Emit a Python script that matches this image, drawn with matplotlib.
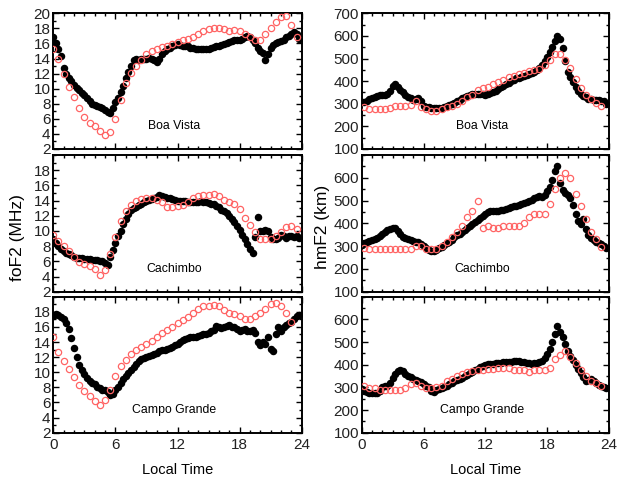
import numpy as np
import matplotlib
matplotlib.use('Agg')
import matplotlib.pyplot as plt
from matplotlib.ticker import MultipleLocator

plt.rcParams['font.family'] = ['Liberation Sans', 'DejaVu Sans']

# ─────────────────────────────────────────────────────────
# Données lues sur la figure
# obs = points noirs (pas de 15 min), mod = cercles rouges (pas de 30 min)
# ─────────────────────────────────────────────────────────
t_obs = np.arange(0, 24, 0.25)

bv_fof2_obs = [16.8, 16.0, 15.2, 14.4, 12.8, 12.0, 11.4, 11.0, 10.5, 10.1, 9.8, 9.4,
               9.1, 8.7, 8.3, 8.0, 7.8, 7.7, 7.6, 7.4, 7.2, 6.9, 6.8, 7.4,
               8.2, 8.8, 9.6, 10.4, 11.4, 12.2, 13.0, 13.8, 13.9, 13.8, 13.9, 14.0,
               14.0, 14.1, 13.9, 13.8, 13.6, 14.0, 14.6, 15.0, 15.3, 15.4, 15.6, 15.8,
               15.9, 15.8, 15.7, 15.6, 15.6, 15.4, 15.4, 15.3, 15.2, 15.2, 15.2, 15.3,
               15.3, 15.4, 15.5, 15.6, 15.7, 15.8, 15.9, 16.0, 16.2, 16.3, 16.4, 16.5,
               16.5, 16.6, 16.8, 17.0, 16.8, 16.4, 16.0, 15.4, 15.0, 14.8, 13.8, 14.6,
               15.4, 15.8, 16.0, 16.2, 16.3, 16.5, 16.8, 17.0, 17.3, 17.5, 17.2, 16.6]
bv_fof2_mod = [15.2, 13.9, 11.9, 10.2, 8.9, 7.5, 6.2, 5.4, 5.0, 4.4, 3.8, 4.2,
               6.0, 8.5, 10.8, 12.1, 13.0, 13.8, 14.6, 15.0, 15.2, 15.5, 15.7, 15.9,
               16.2, 16.4, 16.6, 16.9, 17.3, 17.7, 17.9, 18.0, 18.1, 17.9, 17.7, 17.8,
               17.6, 17.3, 16.8, 16.5, 16.5, 17.2, 18.1, 18.8, 19.5, 19.6, 18.5, 16.9]

ca_fof2_obs = [8.9, 8.4, 8.0, 7.6, 7.3, 7.1, 6.9, 6.8, 6.6, 6.5, 6.4, 6.4,
               6.3, 6.3, 6.3, 6.2, 6.2, 6.2, 6.1, 6.0, 5.8, 5.5, 6.6, 7.5,
               8.4, 9.3, 10.0, 10.9, 11.6, 12.2, 12.7, 13.0, 13.2, 13.4, 13.6, 13.8,
               13.9, 14.1, 14.2, 14.3, 14.5, 14.7, 14.6, 14.5, 14.4, 14.3, 14.2, 14.1,
               14.0, 14.0, 13.9, 13.9, 13.8, 13.8, 13.8, 13.8, 13.8, 13.9, 13.8, 13.8,
               13.7, 13.6, 13.5, 13.3, 13.1, 12.8, 12.6, 12.3, 12.0, 11.6, 11.2, 10.7,
               10.1, 9.5, 8.9, 8.3, 7.6, 7.1, 9.2, 11.8, 10.0, 10.0, 10.1, 10.0,
               9.2, 9.0, 9.0, 9.1, 9.5, 9.3, 9.1, 9.3, 9.4, 9.2, 9.3, 9.1]
ca_fof2_mod = [9.5, 8.7, 8.0, 7.4, 6.6, 5.9, 5.7, 5.4, 5.0, 4.2, 4.9, 6.9,
               9.2, 11.3, 12.6, 13.4, 13.9, 14.2, 14.3, 14.3, 14.1, 13.8, 13.2, 13.1,
               13.3, 13.4, 13.8, 14.3, 14.6, 14.7, 14.8, 14.9, 14.6, 14.1, 13.8, 13.6,
               12.9, 11.7, 10.8, 9.9, 9.0, 8.9, 9.0, 9.3, 9.9, 10.5, 10.6, 10.3]

cg_fof2_obs = [17.5, 17.7, 17.6, 17.3, 17.0, 16.5, 15.7, 14.5, 13.2, 12.0, 11.0, 10.3,
               9.8, 9.3, 8.9, 8.6, 8.4, 8.1, 7.9, 7.7, 7.6, 7.4, 7.0, 7.1,
               7.6, 8.1, 8.6, 9.1, 9.5, 9.9, 10.3, 10.7, 11.1, 11.5, 11.7, 11.9,
               12.0, 12.2, 12.3, 12.4, 12.6, 12.8, 12.9, 13.0, 13.1, 13.2, 13.4, 13.6,
               13.8, 14.0, 14.2, 14.4, 14.5, 14.6, 14.6, 14.7, 14.8, 14.9, 15.0, 15.1,
               15.2, 15.4, 15.6, 16.1, 16.0, 15.9, 16.0, 16.1, 16.2, 16.0, 16.0, 15.7,
               15.5, 15.6, 15.7, 15.5, 15.4, 15.6, 15.2, 14.0, 13.6, 14.0, 13.8, 14.6,
               13.1, 12.8, 15.0, 16.0, 15.5, 16.0, 16.3, 16.5, 16.6, 17.0, 17.4, 17.6]
cg_fof2_mod = [14.6, 12.7, 11.5, 10.4, 9.4, 8.3, 7.5, 6.8, 6.2, 5.6, 6.3, 7.7,
               9.5, 10.8, 11.6, 12.4, 12.9, 13.3, 13.7, 14.1, 14.7, 15.2, 15.6, 16.0,
               16.5, 16.9, 17.3, 17.8, 18.4, 18.7, 18.8, 18.9, 18.7, 18.2, 17.9, 17.7,
               17.5, 17.1, 17.1, 17.4, 17.8, 18.4, 19.0, 19.1, 18.8, 17.9, 16.6]

bv_hmf2_obs = [306, 308, 312, 320, 326, 330, 334, 338, 340, 340, 342, 355,
               380, 388, 372, 360, 350, 340, 332, 325, 318, 322, 326, 310,
               292, 286, 284, 282, 281, 280, 281, 283, 286, 290, 295, 300,
               305, 311, 318, 325, 330, 335, 340, 343, 344, 344, 343, 341,
               340, 342, 346, 352, 358, 365, 372, 380, 386, 392, 400, 406,
               412, 416, 419, 422, 425, 430, 435, 440, 448, 458, 472, 488,
               508, 528, 550, 578, 600, 585, 545, 490, 440, 418, 398, 375,
               355, 342, 333, 328, 323, 320, 318, 318, 316, 314, 310, 300]
bv_hmf2_mod = [285, 276, 276, 276, 276, 281, 288, 288, 291, 296, 310, 285,
               276, 266, 266, 276, 285, 291, 300, 310, 329, 340, 359, 369,
               376, 387, 396, 406, 418, 421, 432, 435, 443, 450, 453, 472,
               494, 521, 521, 494, 457, 409, 369, 340, 321, 303, 288]

ca_hmf2_obs = [307, 312, 317, 322, 327, 332, 336, 345, 355, 363, 370, 376,
               380, 378, 366, 352, 342, 336, 332, 326, 321, 318, 317, 310,
               302, 290, 281, 278, 277, 282, 290, 298, 304, 312, 320, 328,
               338, 347, 355, 363, 371, 380, 390, 398, 406, 414, 424, 432,
               442, 450, 456, 456, 455, 456, 458, 460, 463, 466, 470, 474,
               478, 482, 485, 489, 493, 498, 503, 510, 516, 522, 515, 525,
               544, 558, 590, 630, 650, 575, 545, 535, 525, 510, 480, 440,
               410, 398, 418, 375, 350, 335, 325, 318, 314, 310, 302, 290]
ca_hmf2_mod = [292, 288, 288, 288, 288, 288, 288, 288, 288, 288, 299, 299,
               288, 288, 288, 299, 317, 339, 361, 390, 427, 456, 500, 380,
               390, 380, 380, 390, 390, 390, 390, 400, 427, 442, 442, 442,
               486, 552, 600, 621, 600, 530, 478, 420, 361, 332, 295]

cg_hmf2_obs = [294, 286, 280, 276, 275, 275, 276, 285, 300, 305, 308, 318,
               340, 360, 372, 378, 370, 360, 352, 345, 338, 334, 330, 323,
               316, 308, 300, 285, 281, 288, 294, 298, 302, 307, 313, 320,
               326, 332, 337, 342, 348, 355, 362, 369, 376, 382, 390, 396,
               400, 402, 404, 405, 406, 407, 409, 411, 411, 411, 413, 416,
               418, 417, 414, 410, 408, 406, 404, 406, 408, 412, 418, 430,
               445, 470, 500, 535, 570, 545, 520, 490, 460, 440, 420, 400,
               380, 365, 345, 330, 332, 338, 328, 320, 310, 305, 301, 295]
cg_hmf2_mod = [308, 298, 298, 290, 290, 290, 290, 290, 298, 316, 319, 308,
               298, 298, 301, 308, 327, 338, 348, 359, 367, 374, 377, 377,
               381, 381, 386, 386, 386, 377, 377, 377, 367, 377, 377, 377,
               386, 425, 444, 459, 435, 406, 377, 348, 330, 319, 304]

stations = ['Boa Vista', 'Cachimbo', 'Campo Grande']
fof2_obs = [bv_fof2_obs, ca_fof2_obs, cg_fof2_obs]
fof2_mod = [bv_fof2_mod, ca_fof2_mod, cg_fof2_mod]
hmf2_obs = [bv_hmf2_obs, ca_hmf2_obs, cg_hmf2_obs]
hmf2_mod = [bv_hmf2_mod, ca_hmf2_mod, cg_hmf2_mod]
mod_t0 = [[0.0, 0.0, 0.0], [0.25, 0.25, 0.25]]   # premier cercle rouge (h)

RED = '#ff6464'

# ─────────────────────────────────────────────────────────
# Figure — 3 lignes x 2 colonnes, axes placés à la main
# ─────────────────────────────────────────────────────────
fig = plt.figure(figsize=(6.25, 4.82), dpi=100)
cols = [(0.0853, 0.3974), (0.5787, 0.3957)]
rows = [(0.6909, 0.2815), (0.3948, 0.2836), (0.1023, 0.2822)]

for c, (x0, w) in enumerate(cols):
    for r, (y0, h) in enumerate(rows):
        ax = fig.add_axes([x0, y0, w, h])
        if c == 0:
            obs, mod = fof2_obs[r], fof2_mod[r]
            ax.set_ylim(2, 20)
            ax.set_yticks(np.arange(2, 21 if r == 0 else 19, 2))
            ax.yaxis.set_minor_locator(MultipleLocator(1))
            ytxt = 5.0
        else:
            obs, mod = hmf2_obs[r], hmf2_mod[r]
            ax.set_ylim(100, 700)
            ax.set_yticks(np.arange(100, 701 if r == 0 else 601, 100))
            ax.yaxis.set_minor_locator(MultipleLocator(50))
            ytxt = 200
        t_mod = mod_t0[c][r] + 0.5 * np.arange(len(mod))

        ax.plot(t_obs, obs, 'o', color='black', ms=5.4, mew=0, zorder=2)
        ax.plot(t_mod, mod, 'o', mfc='none', mec=RED, ms=4.5, mew=0.9, zorder=3)
        ax.text(11.7, ytxt, stations[r], ha='center', va='center', fontsize=8.8)

        ax.set_xlim(0, 24)
        ax.set_xticks([0, 6, 12, 18, 24])
        ax.xaxis.set_minor_locator(MultipleLocator(1))
        ax.tick_params(which='both', direction='in', top=True, right=True,
                       labelsize=11, labelcolor='#222222', width=1.0)
        ax.tick_params(which='major', length=4, pad=2)
        ax.tick_params(which='minor', length=2.2)
        ax.tick_params(axis='x', pad=3.5)
        for s in ax.spines.values():
            s.set_linewidth(1.4)
        if r < 2:
            ax.set_xticklabels([])
        else:
            ax.set_xlabel('Local Time', fontsize=10.5, labelpad=8)

fig.text(0.028, 0.508, 'foF2 (MHz)', rotation=90, ha='center', va='center',
         fontsize=12.5)
fig.text(0.516, 0.53, 'hmF2 (km)', rotation=90, ha='center', va='center',
         fontsize=12.5)

plt.savefig('out.png', dpi=100)
plt.close()
